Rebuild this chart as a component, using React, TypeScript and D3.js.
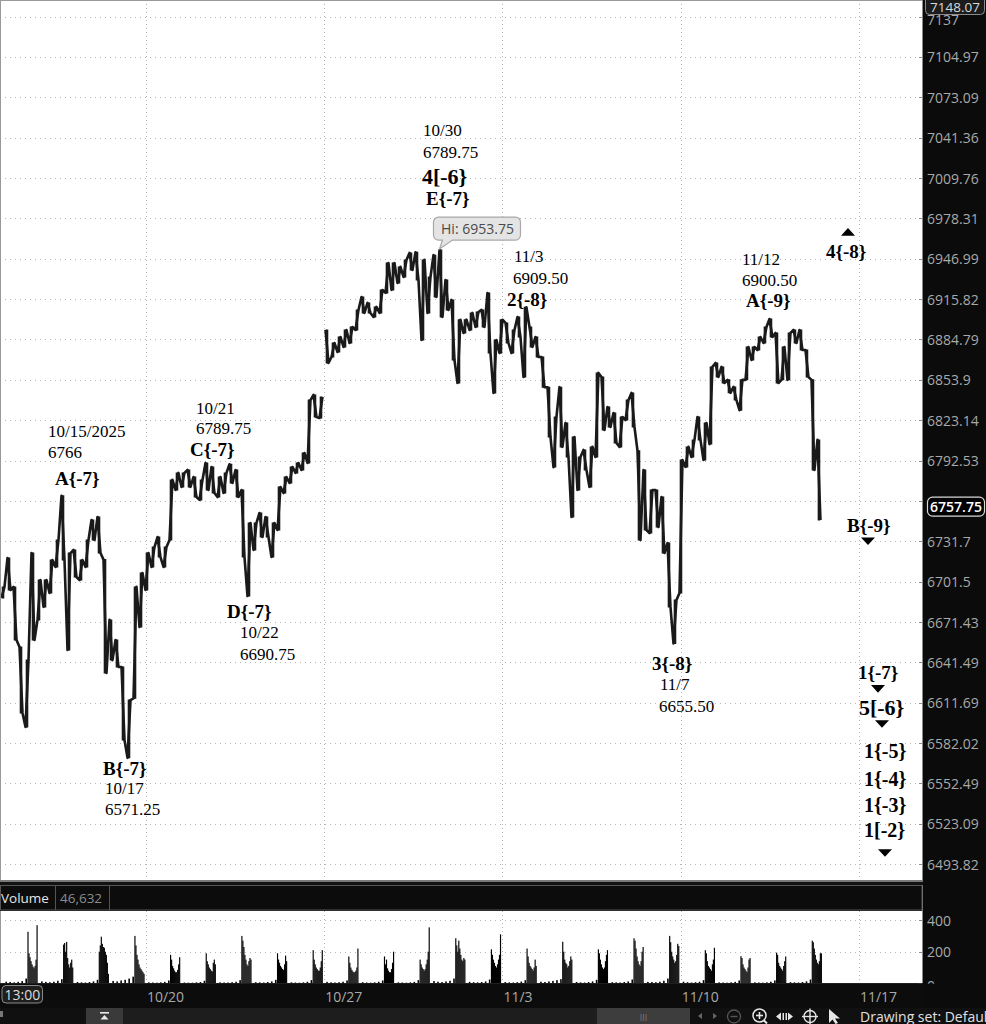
import React, { useEffect } from 'react';
import * as d3 from 'd3';

// ---------- layout constants ----------
const W = 986;
const H = 1024;
const PLOT_R = 922;
const PRICE_TOP = 0;
const PRICE_BOTTOM = 880;
const VOL_TOP = 911;
const VOL_BOTTOM = 983.3;

// ---------- domains ----------
const SESSION_START = 0.905; // session index at left edge (10/13 = 0)
const SESSION_END = 26.768;
const BAR_SPAN = 0.1683; // sessions per price bar
const PRICE_MAX = 7150.2;
const PRICE_MIN = 6482.4;
const VOL_MAX = 457.6;
const GAP_BREAK = 20;

// ---------- price bars (high / low) ----------
const priceHigh = [
  6697.6, 6719.2, 6697.6, 6652.9, 6643.2, 6722.9, 6702.7, 6702.7, 6717.7, 6732.7,
  6766.0, 6722.9, 6725.2, 6717.7, 6732.7, 6747.7, 6750.0, 6718.0, 6673.0, 6658.1,
  6638.1, 6613.7, 6697.6, 6708.0, 6722.9, 6727.4, 6734.9, 6727.4, 6777.9, 6783.2,
  6783.2, 6785.4, 6780.1, 6777.9, 6790.7, 6787.7, 6780.1, 6783.2, 6789.75, 6785.4,
  6770.3, 6745.5, 6745.5, 6753.0, 6750.0, 6745.5, 6772.6, 6780.1, 6787.7, 6790.7,
  6798.3, 6838.5, 6842.4, 6840.9, 6892.1, 6882.1, 6886.7, 6892.1, 6894.4, 6907.5,
  6917.5, 6912.9, 6909.8, 6922.9, 6943.7, 6943.7, 6940.7, 6946.1, 6951.5, 6952.0,
  6946.1, 6932.9, 6949.8, 6953.75, 6930.6, 6915.2, 6900.0, 6900.0, 6905.2, 6905.9,
  6907.5, 6920.6, 6884.4, 6900.0, 6897.5, 6892.1, 6902.1, 6909.5, 6894.4, 6886.7,
  6871.4, 6848.3, 6825.6, 6848.3, 6821.0, 6810.4, 6795.2, 6800.6, 6802.9, 6859.2,
  6856.1, 6833.2, 6828.6, 6825.6, 6838.5, 6843.9, 6800.0, 6785.4, 6770.3, 6770.3,
  6765.0, 6730.4, 6687.9, 6792.9, 6802.9, 6808.2, 6825.6, 6821.0, 6863.8, 6866.8,
  6863.8, 6853.9, 6848.5, 6853.9, 6879.0, 6879.0, 6886.7, 6894.4, 6900.5, 6889.8,
  6879.0, 6889.8, 6892.1, 6892.1, 6876.7, 6853.9, 6808.2,
];
const priceLow = [
  6689.4, 6695.3, 6658.1, 6604.2, 6593.9, 6658.1, 6673.0, 6682.7, 6693.1, 6712.5,
  6717.7, 6650.7, 6705.0, 6702.7, 6712.5, 6732.7, 6722.9, 6633.7, 6643.2, 6638.1,
  6584.3, 6571.25, 6615.0, 6667.7, 6695.3, 6712.5, 6719.9, 6712.5, 6732.7, 6770.3,
  6772.6, 6772.6, 6765.0, 6762.8, 6770.3, 6768.0, 6765.0, 6768.0, 6775.6, 6765.0,
  6719.9, 6690.75, 6725.2, 6734.9, 6734.9, 6719.9, 6740.2, 6768.0, 6775.6, 6783.2,
  6785.4, 6790.7, 6825.6, 6824.8, 6866.8, 6871.4, 6875.2, 6879.1, 6882.1, 6892.1,
  6905.2, 6905.2, 6902.1, 6905.2, 6920.6, 6922.9, 6928.3, 6932.9, 6938.3, 6930.6,
  6884.4, 6905.2, 6917.5, 6902.1, 6907.5, 6869.1, 6851.5, 6889.8, 6892.1, 6894.4,
  6894.4, 6874.4, 6843.9, 6874.4, 6882.1, 6874.4, 6886.7, 6856.1, 6879.1, 6871.4,
  6848.3, 6810.4, 6787.6, 6802.9, 6795.2, 6750.0, 6770.3, 6785.4, 6772.6, 6795.2,
  6815.7, 6818.0, 6805.9, 6802.9, 6823.3, 6818.0, 6732.7, 6740.2, 6737.9, 6742.4,
  6722.9, 6682.7, 6655.5, 6693.1, 6787.7, 6795.2, 6808.2, 6793.0, 6805.0, 6856.1,
  6851.5, 6844.0, 6838.5, 6830.8, 6853.9, 6869.1, 6876.7, 6882.1, 6886.7, 6851.5,
  6853.9, 6853.9, 6882.1, 6876.7, 6856.1, 6785.4, 6747.7,
];
const lastPrice = 6757.75;
const topPrice = 7148.07;
const hiPrice = 6953.75;
const hiSession = 13.233;

// ---------- axis ticks ----------
const priceTickValues = [
  7137, 7104.97, 7073.09, 7041.36, 7009.76, 6978.31, 6946.99, 6915.82, 6884.79, 6853.9,
  6823.14, 6792.53, 6762.04, 6731.7, 6701.5, 6671.43, 6641.49, 6611.69, 6582.02, 6552.49,
  6523.09, 6493.82,
];
const weekTickSessions = [5, 10, 15, 20, 25];
const weekTickLabels = ['10/20', '10/27', '11/3', '11/10', '11/17'];
const volumeTickValues = [0, 200, 400];

// ---------- volume ----------
const volumeSession = [1, 2, 3, 4, 5, 6, 7, 8, 9, 10, 11, 12, 13, 14, 15, 16, 17, 18, 19, 20, 21, 22, 23];
const volumeEth = [
  [10, 8, 6, 9, 14, 30], [12, 9, 7, 10, 16, 26], [8, 6, 5, 8, 12, 22], [15, 12, 18, 22, 30, 42],
  [6, 5, 4, 6, 9, 18], [5, 4, 4, 6, 8, 16], [6, 5, 5, 7, 10, 20], [7, 6, 5, 8, 12, 22],
  [6, 5, 4, 6, 10, 20], [9, 6, 5, 7, 10, 18], [7, 5, 4, 6, 10, 18], [6, 5, 4, 6, 9, 20],
  [14, 10, 8, 12, 16, 30], [9, 7, 6, 8, 12, 24], [8, 6, 5, 7, 11, 20], [10, 8, 12, 15, 20, 26],
  [8, 6, 5, 8, 12, 22], [7, 6, 5, 8, 12, 24], [9, 8, 7, 10, 16, 30], [10, 7, 5, 7, 10, 20],
  [6, 5, 4, 6, 9, 18], [6, 5, 4, 6, 10, 18], [7, 6, 5, 8, 12, 24],
];
const volumeRth = [
  [326, 190, 165, 140, 120, 105, 95, 110, 150, 368],
  [245, 255, 200, 262, 160, 120, 100, 130, 150, 100],
  [200, 240, 295, 250, 230, 225, 200, 180, 130, 60],
  [300, 240, 180, 150, 120, 100, 90, 80, 70, 60],
  [180, 150, 110, 95, 80, 70, 70, 85, 120, 165],
  [190, 140, 120, 100, 90, 80, 75, 130, 150, 120],
  [300, 270, 230, 180, 150, 120, 110, 140, 160, 150],
  [190, 150, 130, 110, 100, 90, 85, 120, 175, 140],
  [210, 150, 120, 100, 90, 80, 80, 100, 140, 210],
  [170, 130, 100, 85, 75, 70, 70, 80, 100, 220],
  [170, 120, 150, 95, 80, 70, 70, 90, 130, 200],
  [150, 120, 100, 90, 80, 90, 120, 150, 200, 354],
  [285, 240, 200, 270, 220, 180, 150, 140, 160, 150],
  [215, 180, 150, 130, 110, 100, 120, 150, 180, 310],
  [220, 170, 130, 110, 100, 90, 80, 100, 150, 110],
  [263, 200, 150, 130, 120, 100, 110, 140, 170, 150],
  [215, 190, 150, 120, 100, 90, 100, 140, 180, 210],
  [285, 270, 220, 170, 140, 120, 110, 140, 200, 230],
  [300, 260, 200, 170, 150, 130, 140, 180, 250, 236],
  [210, 190, 140, 110, 100, 90, 80, 120, 150, 225],
  [172, 160, 120, 100, 90, 80, 70, 100, 150, 160],
  [194, 180, 130, 110, 100, 90, 80, 110, 140, 170],
  [270, 260, 220, 180, 150, 130, 120, 140, 190, 190],
];
const ETH_FRACTION = 0.674;
const RTH_FRACTION = 0.283;
const volumeTotal = '46,632';

// ---------- annotations ----------
const annoText = [
  '10/15/2025', '6766', 'A{-7}', '10/21', '6789.75', 'C{-7}', 'D{-7}', '10/22', '6690.75',
  'B{-7}', '10/17', '6571.25', '10/30', '6789.75', '4[-6}', 'E{-7}', '11/3', '6909.50', '2{-8}',
  '11/12', '6900.50', 'A{-9}', '3{-8}', '11/7', '6655.50', '4{-8}', 'B{-9}', '1{-7}', '5[-6}',
  '1{-5}', '1{-4}', '1{-3}', '1[-2}',
];
const annoSession = [
  2.251, 2.251, 2.448, 6.403, 6.403, 6.235, 7.273, 7.637, 7.637,
  3.794, 3.85, 3.85, 12.77, 12.77, 12.742, 12.855, 15.323, 15.295, 15.127,
  21.718, 21.718, 21.831, 19.194, 19.418, 19.39, 24.075, 24.664, 24.972, 25.0,
  25.141, 25.141, 25.141, 25.141,
];
const annoPrice = [
  6814.2, 6799.0, 6778.6, 6832.4, 6817.2, 6800.6, 6678.9, 6663.3, 6647.0,
  6563.8, 6548.5, 6533.2, 7046.7, 7029.4, 7010.6, 6993.5, 6948.4, 6932.1, 6915.2,
  6946.1, 6930.5, 6914.4, 6641.0, 6624.8, 6609.3, 6952.3, 6743.9, 6633.7, 6607.9,
  6576.2, 6555.8, 6536.8, 6518.6,
];
const annoKind = [
  'n', 'n', 'b', 'n', 'n', 'b', 'b', 'n', 'n',
  'b', 'n', 'n', 'n', 'n', 'B', 'b', 'n', 'n', 'b',
  'n', 'n', 'b', 'b', 'n', 'n', 'b', 'b', 'b', 'B',
  'm', 'm', 'm', 'm',
];
const markerSession = [24.692, 25.253, 25.534, 25.646, 25.73];
const markerPrice = [6967.8, 6731.7, 6621.9, 6596.1, 6501.9];
const markerDir = ['up', 'down', 'down', 'down', 'down'];

const AXIS_FONT = '"Open Sans", "Noto Sans", sans-serif';
const SERIF = '"Liberation Serif", "Times New Roman", serif';

export default function App() {
  useEffect(() => {
    document.body.style.margin = '0';
    document.body.style.background = '#fff';
  }, []);

  const x = d3.scaleLinear().domain([SESSION_START, SESSION_END]).range([0, PLOT_R]);
  const y = d3.scaleLog().domain([PRICE_MAX, PRICE_MIN]).range([PRICE_TOP, PRICE_BOTTOM]);
  const yv = d3.scaleLinear().domain([0, VOL_MAX]).range([VOL_BOTTOM, VOL_TOP]);

  // price zigzag path + hi/lo ticks
  const bars = priceHigh.map((h, i) => ({ t: SESSION_START + i * BAR_SPAN, hi: h, lo: priceLow[i] }));
  let pricePath = '';
  let barPath = '';
  let lastRising = false;
  bars.forEach((b, i) => {
    const x0 = x(b.t);
    const x1 = x(b.t + BAR_SPAN);
    const w = x1 - x0;
    const next = bars[i + 1];
    const prev = bars[i - 1];
    const mid = (b.hi + b.lo) / 2;
    const rising = next ? (next.hi + next.lo) / 2 > mid : lastRising;
    lastRising = rising;
    const yHi = y(b.hi);
    const yLo = y(b.lo);
    const first = rising ? yLo : yHi;
    const second = rising ? yHi : yLo;
    const gap = prev && (b.lo - prev.hi > GAP_BREAK || prev.lo - b.hi > GAP_BREAK);
    pricePath += `${i === 0 || gap ? 'M' : 'L'}${(x0 + w * 0.25).toFixed(2)},${first.toFixed(2)}L${(x0 + w * 0.75).toFixed(2)},${second.toFixed(2)}`;
    const xm = x0 + w * 0.5;
    barPath += `M${xm.toFixed(2)},${(yHi - 0.5).toFixed(2)}V${(yLo + 0.5).toFixed(2)}`;
  });

  // volume rects
  const volRects: { x: number; w: number; v: number }[] = [];
  volumeSession.forEach((d, si) => {
    const ethStep = ETH_FRACTION / volumeEth[si].length;
    volumeEth[si].forEach((v, j) => {
      const t = d + j * ethStep;
      volRects.push({ x: x(t + ethStep * 0.5), w: 1.6, v });
    });
    const rthStep = RTH_FRACTION / volumeRth[si].length;
    volumeRth[si].forEach((v, j) => {
      const t = d + ETH_FRACTION + j * rthStep;
      volRects.push({ x: x(t), w: Math.max(1.15, x(t + rthStep) - x(t) + 0.15), v });
    });
  });

  const kindStyle: Record<string, { size: number; weight: string }> = {
    n: { size: 17, weight: 'normal' },
    b: { size: 19, weight: 'bold' },
    B: { size: 22, weight: 'bold' },
    m: { size: 20, weight: 'bold' },
  };

  const hiX = x(hiSession);
  const hiY = y(hiPrice);
  const lastY = y(lastPrice);

  return (
    <svg
      width={W}
      height={H}
      viewBox={`0 0 ${W} ${H}`}
      style={{ position: 'absolute', left: 0, top: 0, display: 'block' }}
      xmlns="http://www.w3.org/2000/svg"
    >
      <defs>
        <clipPath id="priceClip">
          <rect x={0} y={PRICE_TOP} width={PLOT_R} height={PRICE_BOTTOM - PRICE_TOP} />
        </clipPath>
        <clipPath id="volClip">
          <rect x={0} y={VOL_TOP} width={PLOT_R} height={VOL_BOTTOM - VOL_TOP} />
        </clipPath>
        <clipPath id="volAxisClip">
          <rect x={PLOT_R} y={VOL_TOP} width={W - PLOT_R} height={VOL_BOTTOM - VOL_TOP + 0.5} />
        </clipPath>
      </defs>

      {/* backgrounds */}
      <rect x={0} y={0} width={W} height={H} fill="#0b0b0b" />
      <rect x={0} y={PRICE_TOP} width={PLOT_R} height={PRICE_BOTTOM - PRICE_TOP} fill="#ffffff" />
      <rect x={0} y={VOL_TOP} width={PLOT_R} height={VOL_BOTTOM - VOL_TOP} fill="#ffffff" />

      {/* price grid */}
      <g clipPath="url(#priceClip)">
        {priceTickValues.map((v) => (
          <line key={`hg${v}`} x1={0} x2={PLOT_R - 3} y1={Math.round(y(v)) + 0.5} y2={Math.round(y(v)) + 0.5}
            stroke="#b4b4b4" strokeWidth={1} strokeDasharray="1,4" />
        ))}
        {weekTickSessions.map((s) => (
          <line key={`vg${s}`} x1={Math.round(x(s)) + 0.5} x2={Math.round(x(s)) + 0.5} y1={PRICE_TOP} y2={PRICE_BOTTOM}
            stroke="#b4b4b4" strokeWidth={1} strokeDasharray="1,3" />
        ))}
        <path d={barPath} fill="none" stroke="#1a1a1a" strokeWidth={2.6} />
        <path d={pricePath} fill="none" stroke="#1a1a1a" strokeWidth={2.6} strokeLinejoin="round" />
      </g>

      {/* price tick marks */}
      {priceTickValues.map((v) => (
        <line key={`tm${v}`} x1={PLOT_R - 3} x2={PLOT_R} y1={Math.round(y(v)) + 0.5} y2={Math.round(y(v)) + 0.5}
          stroke="#8c8c8c" strokeWidth={1} />
      ))}

      {/* borders of price panel */}
      <line x1={0.5} x2={0.5} y1={0} y2={PRICE_BOTTOM} stroke="#9a9a9a" />
      <line x1={0} x2={PLOT_R} y1={0.5} y2={0.5} stroke="#9a9a9a" />
      <line x1={PLOT_R + 0.5} x2={PLOT_R + 0.5} y1={0} y2={VOL_BOTTOM} stroke="#8a8a8a" />

      {/* annotations */}
      {annoText.map((t, i) => {
        const st = kindStyle[annoKind[i]];
        return (
          <text key={`an${i}`} x={x(annoSession[i])} y={y(annoPrice[i])} dominantBaseline="central"
            fontFamily={SERIF} fontSize={st.size} fontWeight={st.weight} fill="#000">{t}</text>
        );
      })}
      {markerSession.map((s, i) => {
        const cx = x(s);
        const cy = y(markerPrice[i]);
        const hw = 7;
        const hh = 3.8;
        const d = markerDir[i] === 'up'
          ? `M${cx - hw},${cy + hh}L${cx + hw},${cy + hh}L${cx},${cy - hh}Z`
          : `M${cx - hw},${cy - hh}L${cx + hw},${cy - hh}L${cx},${cy + hh}Z`;
        return <path key={`mk${i}`} d={d} fill="#000" />;
      })}

      {/* Hi bubble */}
      <g>
        <path
          d={`M${hiX - 1},${hiY - 33} h77 a5,5 0 0 1 5,5 v13 a5,5 0 0 1 -5,5 H${hiX + 13} L${hiX},${hiY - 1} L${hiX + 3},${hiY - 10} H${hiX - 1} a5,5 0 0 1 -5,-5 v-13 a5,5 0 0 1 5,-5 Z`}
          fill="#e4e4e4" stroke="#a8a8a8" strokeWidth={1.2}
        />
        <text x={hiX + 38} y={hiY - 21.5} textAnchor="middle" dominantBaseline="central"
          fontFamily={AXIS_FONT} fontSize={14} fill="#4a4a4a">{`Hi: ${hiPrice}`}</text>
      </g>

      {/* right price axis labels (the one under the last-price box is hidden, as in the platform) */}
      {priceTickValues.filter((v) => Math.abs(y(v) - lastY) > 10).map((v) => (
        <text key={`pl${v}`} x={PLOT_R + 5} y={y(v) + (v === priceTickValues[0] ? 3 : 0)} dominantBaseline="central"
          fontFamily={AXIS_FONT} fontSize={14} fill="#a9a9a9">{String(v)}</text>
      ))}
      {/* top price box */}
      <rect x={PLOT_R + 3.5} y={-4} width={59} height={18.5} rx={4} fill="#1c1c1c" stroke="#8a8a8a" />
      <text x={PLOT_R + 33} y={7} textAnchor="middle" dominantBaseline="central"
        fontFamily={AXIS_FONT} fontSize={13.5} fill="#d8d8d8">{topPrice.toFixed(2)}</text>
      {/* last price box */}
      <rect x={PLOT_R + 5.5} y={lastY - 9.5} width={57} height={19} rx={5} fill="#000" stroke="#d8d8d8" strokeWidth={1.2} />
      <text x={PLOT_R + 34} y={lastY} textAnchor="middle" dominantBaseline="central"
        fontFamily={AXIS_FONT} fontSize={14} fontWeight={600} fill="#ffffff">{lastPrice.toFixed(2)}</text>

      {/* separator between panels */}
      <rect x={0} y={PRICE_BOTTOM} width={PLOT_R + 1} height={2} fill="#7a7a7a" />
      <rect x={0} y={PRICE_BOTTOM + 2} width={PLOT_R + 1} height={3} fill="#121212" />
      {/* volume header */}
      <rect x={0.5} y={885.5} width={PLOT_R - 0.5} height={24.5} fill="#0c0c0c" stroke="#555" />
      <line x1={55.5} x2={55.5} y1={885.5} y2={910} stroke="#555" />
      <line x1={109.5} x2={109.5} y1={885.5} y2={910} stroke="#555" />
      <text x={1} y={897.5} dominantBaseline="central" fontFamily={AXIS_FONT} fontSize={13.5} fill="#e6e6e6">Volume</text>
      <text x={60} y={897.5} dominantBaseline="central" fontFamily={AXIS_FONT} fontSize={13.5} fill="#8c8c8c">{volumeTotal}</text>

      {/* volume panel */}
      <g clipPath="url(#volClip)">
        {volumeTickValues.filter((v) => v > 0).map((v) => (
          <line key={`vgh${v}`} x1={0} x2={PLOT_R - 3} y1={Math.round(yv(v)) + 0.5} y2={Math.round(yv(v)) + 0.5}
            stroke="#b4b4b4" strokeDasharray="1,4" />
        ))}
        {weekTickSessions.map((s) => (
          <line key={`vgv${s}`} x1={Math.round(x(s)) + 0.5} x2={Math.round(x(s)) + 0.5} y1={VOL_TOP} y2={VOL_BOTTOM}
            stroke="#b4b4b4" strokeDasharray="1,3" />
        ))}
        {volRects.map((r, i) => (
          <rect key={`vr${i}`} x={r.x} y={yv(r.v)} width={r.w} height={VOL_BOTTOM - yv(r.v)} fill="#000" />
        ))}
      </g>
      <line x1={0.5} x2={0.5} y1={VOL_TOP} y2={VOL_BOTTOM} stroke="#9a9a9a" />
      {volumeTickValues.map((v) => (
        <line key={`vtm${v}`} x1={PLOT_R - 3} x2={PLOT_R} y1={Math.round(yv(v)) + 0.5} y2={Math.round(yv(v)) + 0.5} stroke="#8c8c8c" />
      ))}
      <g clipPath="url(#volAxisClip)">
        {volumeTickValues.map((v) => (
          <text key={`vl${v}`} x={PLOT_R + 5} y={yv(v) + (v === 0 ? 2 : 0)} dominantBaseline="central"
            fontFamily={AXIS_FONT} fontSize={14} fill="#a9a9a9">{String(v)}</text>
        ))}
      </g>

      {/* time axis */}
      <rect x={0} y={VOL_BOTTOM} width={PLOT_R + 1} height={1008 - VOL_BOTTOM} fill="#0c0c0c" />
      {weekTickSessions.map((s, i) => (
        <text key={`wl${s}`} x={x(s) + 1} y={996.5} dominantBaseline="central"
          fontFamily={AXIS_FONT} fontSize={14} fill="#a9a9a9">{weekTickLabels[i]}</text>
      ))}
      <rect x={2} y={985.5} width={40.5} height={17.5} rx={4} fill="#1e1e1e" stroke="#8a8a8a" />
      <text x={22.3} y={994.5} textAnchor="middle" dominantBaseline="central"
        fontFamily={AXIS_FONT} fontSize={14} fill="#dcdcdc">13:00</text>

      {/* bottom toolbar */}
      <rect x={0} y={1008} width={W} height={16} fill="#101010" />
      <rect x={0} y={1011} width={3} height={6} fill="#777" />
      <rect x={86} y={1008} width={37} height={16} fill="#3a3a3a" />
      <rect x={100} y={1012} width={9} height={1.6} fill="#eaeaea" />
      <path d="M104.5,1015 L100.5,1019.5 H108.5 Z" fill="#eaeaea" />
      <rect x={123} y={1008} width={474} height={16} fill="#1d1d1d" />
      <rect x={597} y={1008} width={93} height={16} fill="#3d3d3d" />
      <text x={643.5} y={1017} textAnchor="middle" dominantBaseline="central" fontFamily={AXIS_FONT} fontSize={9} fill="#7a7a7a">III</text>
      <path d="M698,1016 L702,1013 V1019 Z" fill="#666" />
      <path d="M717,1016 L713,1013 V1019 Z" fill="#666" />
      <circle cx={734} cy={1016.5} r={6.5} fill="none" stroke="#555" strokeWidth={1.3} />
      <line x1={730.5} x2={737.5} y1={1016.5} y2={1016.5} stroke="#555" strokeWidth={1.4} />
      <circle cx={759.5} cy={1015.5} r={6.5} fill="none" stroke="#e6e6e6" strokeWidth={1.5} />
      <line x1={756} x2={763} y1={1015.5} y2={1015.5} stroke="#e6e6e6" strokeWidth={1.6} />
      <line x1={759.5} x2={759.5} y1={1012} y2={1019} stroke="#e6e6e6" strokeWidth={1.6} />
      <line x1={763.5} x2={767} y1={1020} y2={1023.5} stroke="#e6e6e6" strokeWidth={2} />
      <path d="M776,1016.5 L781,1012.5 V1020.5 Z" fill="#e6e6e6" />
      <rect x={782.5} y={1013} width={1.5} height={7} fill="#e6e6e6" />
      <rect x={785.5} y={1013} width={1.5} height={7} fill="#e6e6e6" />
      <path d="M793,1016.5 L788,1012.5 V1020.5 Z" fill="#e6e6e6" />
      <circle cx={810} cy={1016.5} r={6} fill="none" stroke="#e6e6e6" strokeWidth={1.4} />
      <line x1={802} x2={818} y1={1016.5} y2={1016.5} stroke="#e6e6e6" strokeWidth={1.4} />
      <line x1={810} x2={810} y1={1008.5} y2={1024} stroke="#e6e6e6" strokeWidth={1.4} />
      <path d="M829,1009 L829,1023 L832.5,1019.5 L835.5,1024 L838,1023 L835,1018.5 L840,1018.5 Z" fill="#e6e6e6" />
      <text x={860} y={1016} dominantBaseline="central" fontFamily={AXIS_FONT} fontSize={14} fill="#e0e0e0">Drawing set: Default</text>
    </svg>
  );
}
